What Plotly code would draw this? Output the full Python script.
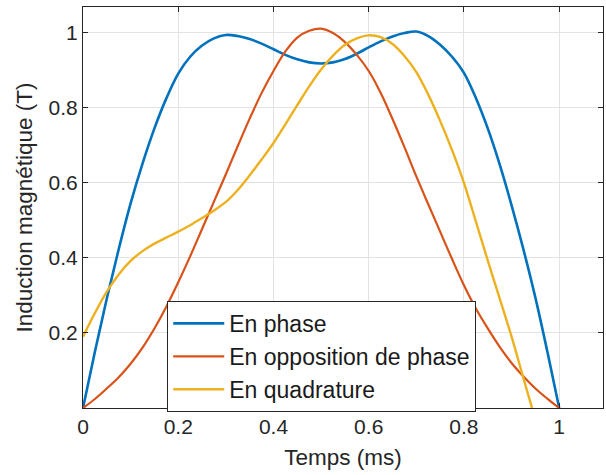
import plotly.graph_objects as go

# Values (time in ms, induction in T)
t = [0.0, 0.025, 0.05, 0.075, 0.1, 0.125, 0.15, 0.175, 0.2, 0.225, 0.25, 0.275,
     0.3, 0.325, 0.35, 0.375, 0.4, 0.425, 0.45, 0.475, 0.5, 0.525, 0.55, 0.575,
     0.6, 0.625, 0.65, 0.675, 0.7, 0.725, 0.75, 0.775, 0.8, 0.825, 0.85, 0.875,
     0.9, 0.925, 0.95, 0.975, 1.0]

en_phase = [0.0, 0.15, 0.292, 0.423, 0.545, 0.651, 0.745, 0.825, 0.891, 0.936, 0.966, 0.985,
            0.994, 0.991, 0.983, 0.971, 0.956, 0.941, 0.929, 0.921, 0.918, 0.921, 0.93, 0.944,
            0.961, 0.977, 0.99, 0.999, 1.003, 0.991, 0.968, 0.936, 0.893, 0.826, 0.745, 0.649,
            0.54, 0.422, 0.294, 0.151, 0.0]

en_opposition = [0.0, 0.024, 0.052, 0.082, 0.118, 0.161, 0.212, 0.27, 0.335, 0.404, 0.477, 0.55,
                 0.623, 0.698, 0.771, 0.839, 0.898, 0.95, 0.987, 1.005, 1.011, 0.999, 0.975, 0.941,
                 0.898, 0.84, 0.77, 0.695, 0.617, 0.543, 0.47, 0.397, 0.327, 0.265, 0.212, 0.163,
                 0.12, 0.084, 0.052, 0.025, 0.0]

t_quad = [0.0, 0.025, 0.05, 0.075, 0.1, 0.125, 0.15, 0.175, 0.2, 0.225, 0.25, 0.275,
          0.3, 0.325, 0.35, 0.375, 0.4, 0.425, 0.45, 0.475, 0.5, 0.525, 0.55, 0.575,
          0.6, 0.625, 0.65, 0.675, 0.7, 0.725, 0.75, 0.775, 0.8, 0.825, 0.85, 0.875,
          0.9, 0.925, 0.943]
en_quadrature = [0.19, 0.253, 0.31, 0.356, 0.392, 0.418, 0.438, 0.454, 0.47, 0.487, 0.506, 0.526,
                 0.549, 0.581, 0.62, 0.662, 0.706, 0.756, 0.807, 0.857, 0.902, 0.939, 0.968, 0.985,
                 0.993, 0.988, 0.97, 0.938, 0.895, 0.835, 0.765, 0.687, 0.6, 0.497, 0.393, 0.292,
                 0.19, 0.079, 0.0]

names = ["En phase", "En opposition de phase", "En quadrature"]
colors = ["#0072BD", "#D95319", "#EDB120"]
widths = [2.6, 2.2, 2.4]

x_ticks = [0, 0.2, 0.4, 0.6, 0.8, 1]
x_ticktext = ["0", "0.2", "0.4", "0.6", "0.8", "1"]
y_ticks = [0.2, 0.4, 0.6, 0.8, 1]
y_ticktext = ["0.2", "0.4", "0.6", "0.8", "1"]

FONT = "Liberation Sans, Arial, Helvetica, sans-serif"
AX = "#262626"

fig = go.Figure()
series = [(t, en_phase), (t, en_opposition), (t_quad, en_quadrature)]
for i, (xs, ys) in enumerate(series):
    fig.add_trace(go.Scatter(
        x=xs, y=ys, mode="lines", name=names[i],
        line=dict(color=colors[i], width=widths[i], shape="spline", smoothing=1.0),
    ))

axis_common = dict(
    showline=True, linecolor=AX, linewidth=1, mirror="ticks",
    ticks="inside", ticklen=5, tickcolor=AX, tickwidth=1,
    showgrid=True, gridcolor="#e3e3e3", gridwidth=1, zeroline=False,
    tickfont=dict(family=FONT, size=21, color=AX),
)

fig.update_layout(
    width=606, height=475,
    margin=dict(l=83, r=3, t=7, b=67),
    paper_bgcolor="white", plot_bgcolor="white",
    font=dict(family=FONT, color=AX),
    showlegend=True,
    legend=dict(
        x=0.162, y=0.267, xanchor="left", yanchor="top",
        bgcolor="white", bordercolor=AX, borderwidth=1,
        font=dict(family=FONT, size=23, color="#1a1a1a"),
        itemwidth=51,
    ),
    xaxis=dict(range=[0, 1.092], tickvals=x_ticks, ticktext=x_ticktext,
               title=dict(text="Temps (ms)", font=dict(family=FONT, size=22.5, color=AX), standoff=12),
               **axis_common),
    yaxis=dict(range=[0, 1.0685], tickvals=y_ticks, ticktext=y_ticktext,
               title=dict(text="Induction magnétique (T)", font=dict(family=FONT, size=22.5, color=AX), standoff=9),
               **axis_common),
)

fig.write_html("out.html")
